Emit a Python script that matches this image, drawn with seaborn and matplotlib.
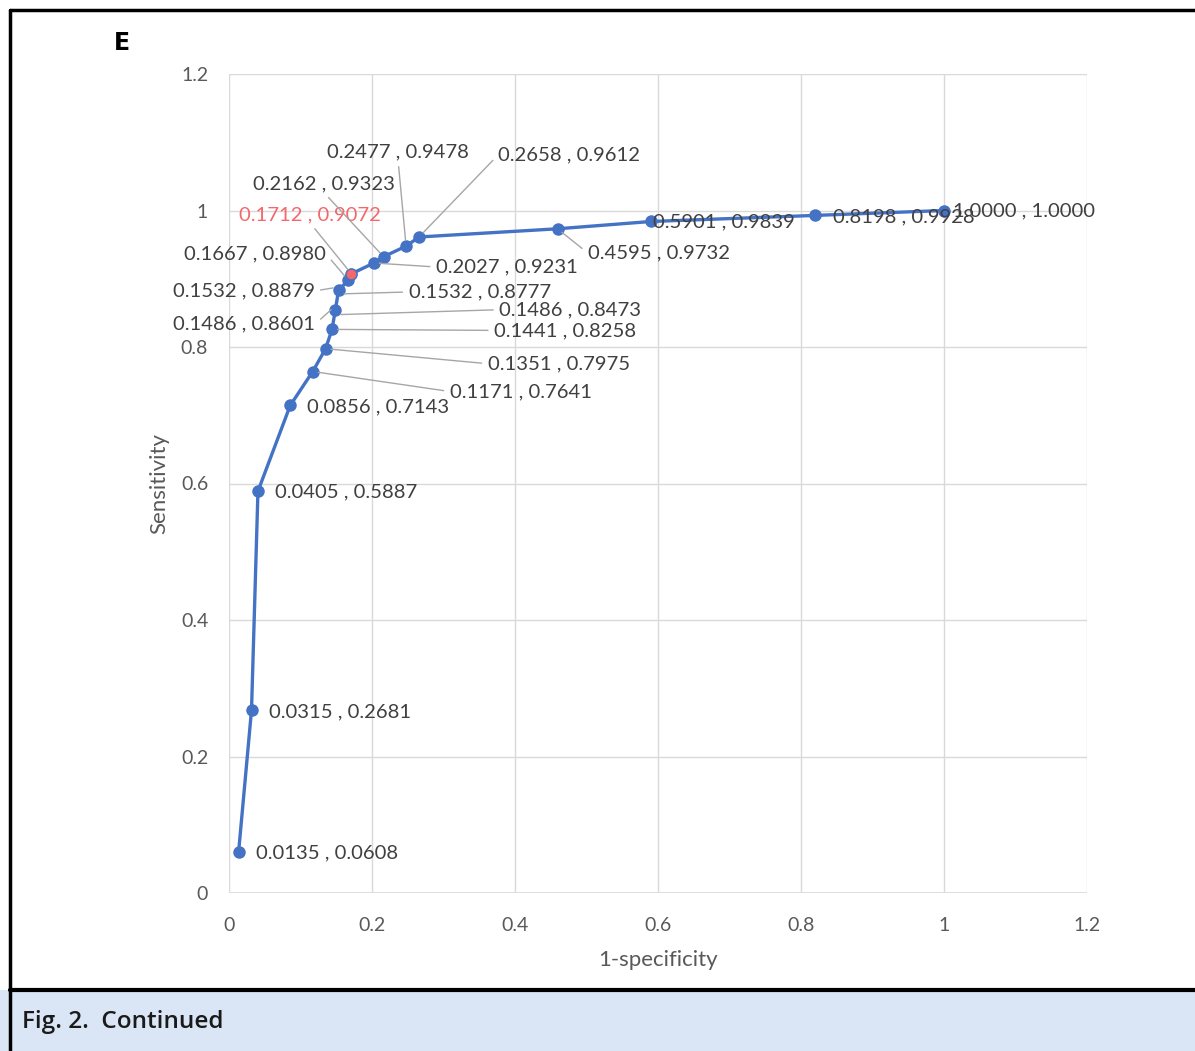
import numpy as np
import pandas as pd
import matplotlib
matplotlib.use("Agg")
import matplotlib.pyplot as plt
import seaborn as sns
from matplotlib.patches import Rectangle
from matplotlib.ticker import FuncFormatter

# ROC points
one_minus_spec = [0.0135, 0.0315, 0.0405, 0.0856, 0.1171, 0.1351, 0.1441, 0.1486, 0.1486,
                  0.1532, 0.1532, 0.1667, 0.1712, 0.2027, 0.2162, 0.2477, 0.2658, 0.4595,
                  0.5901, 0.8198, 1.0000]
sensitivity = [0.0608, 0.2681, 0.5887, 0.7143, 0.7641, 0.7975, 0.8258, 0.8473, 0.8601,
               0.8777, 0.8879, 0.8980, 0.9072, 0.9231, 0.9323, 0.9478, 0.9612, 0.9732,
               0.9839, 0.9928, 1.0000]
best_index = 12  # the cut-off highlighted in red
axis_ticks = [0, 0.2, 0.4, 0.6, 0.8, 1.0, 1.2]

df = pd.DataFrame({"fpr": one_minus_spec, "tpr": sensitivity})

# label placement: (dx, dy) in pixels, alignment, leader line?
label_style = [
    ((17, -1), "left", False), ((17, -2), "left", False), ((17, -1), "left", False),
    ((17, -1), "left", False), ((137, -20), "left", True), ((162, -15), "left", True),
    ((162, -1), "left", True), ((164, 5), "left", True), ((-20, -18), "right", True),
    ((70, 2), "left", True), ((-24, -4), "right", True), ((-22, 26), "right", True),
    ((-41, 59), "center", True), ((62, -4), "left", True), ((-60, 73), "center", True),
    ((-8, 94), "center", True), ((79, 82), "left", True), ((30, -24), "left", True),
    ((2, 0), "left", False), ((18, -1), "left", False), ((9, 0), "left", False),
]

BLUE = "#4472c4"
RED = "#f4676b"
TEXT = "#404040"
GRID = "#d9d9d9"

sns.set_theme(style="white")
plt.rcParams["font.family"] = ["Lato", "DejaVu Sans"]

fig = plt.figure(figsize=(11.95, 10.51), dpi=100)
W, H = 1195, 1051

# frame and caption band
fig.patches.append(Rectangle((0, 0), 1, 61 / H, transform=fig.transFigure,
                             facecolor="#dae6f6", edgecolor="none", zorder=0))
fig.add_artist(plt.Line2D([10 / W, 10 / W], [0, 1 - 10 / H], color="black", lw=2.5,
                          transform=fig.transFigure))
fig.add_artist(plt.Line2D([10 / W, 1], [1 - 10 / H, 1 - 10 / H], color="black", lw=2.5,
                          transform=fig.transFigure))
fig.add_artist(plt.Line2D([10 / W, 1], [61 / H, 61 / H], color="black", lw=3,
                          transform=fig.transFigure))
fig.text(22 / W, 1 - 1022 / H, "Fig. 2.  Continued", fontsize=17.5, fontweight="semibold",
         family="Open Sans", color="#1a1a1a", va="center", ha="left")
fig.text(114 / W, 1 - 43 / H, "E", fontsize=17, fontweight="bold", color="black",
         family="DejaVu Sans", va="center", ha="left")

ax = fig.add_axes([229 / W, 1 - 893 / H, (1087 - 229) / W, (893 - 74) / H])

sns.lineplot(data=df, x="fpr", y="tpr", sort=False, ax=ax, color=BLUE, lw=2.4,
             marker="o", markersize=9, markeredgewidth=0, zorder=3)
sns.scatterplot(x=[one_minus_spec[best_index]], y=[sensitivity[best_index]], ax=ax,
                color=RED, s=60, edgecolor=BLUE, linewidth=0.8, zorder=4)

for i, (fx, sy) in enumerate(zip(one_minus_spec, sensitivity)):
    (dx, dy), ha, leader = label_style[i]
    txt = f"{fx:.4f} , {sy:.4f}"
    relpos = {"left": (0, 0.5), "right": (1, 0.5), "center": (0.5, 0)}[ha]
    arrow = dict(arrowstyle="-", color="#a6a6a6", lw=1.0, shrinkA=2, shrinkB=4,
                 relpos=relpos) if leader else None
    ax.annotate(txt, xy=(fx, sy), xytext=(dx, dy), textcoords="offset pixels",
                ha=ha, va="center", fontsize=14.6,
                color=RED if i == best_index else TEXT, arrowprops=arrow, zorder=5)

ax.set_xlim(0, 1.2)
ax.set_ylim(0, 1.2)
ax.set_xticks(axis_ticks)
ax.set_yticks(axis_ticks)
fmt = FuncFormatter(lambda v, _: f"{v:g}")
ax.xaxis.set_major_formatter(fmt)
ax.yaxis.set_major_formatter(fmt)
ax.tick_params(axis="x", length=0, pad=17, labelsize=14, labelcolor="#595959")
ax.tick_params(axis="y", length=0, pad=15, labelsize=14, labelcolor="#595959")
ax.grid(True, color=GRID, lw=1.0)
for s in ax.spines.values():
    s.set_visible(False)
ax.axhline(0, color=GRID, lw=1.2, zorder=1)

ax.set_xlabel("1-specificity", fontsize=16, color="#595959")
ax.set_ylabel("Sensitivity", fontsize=16, color="#595959")
ax.xaxis.set_label_coords(0.5, -0.07)
ax.yaxis.set_label_coords(-0.07, 0.5)

fig.savefig("out.png", dpi=100)
